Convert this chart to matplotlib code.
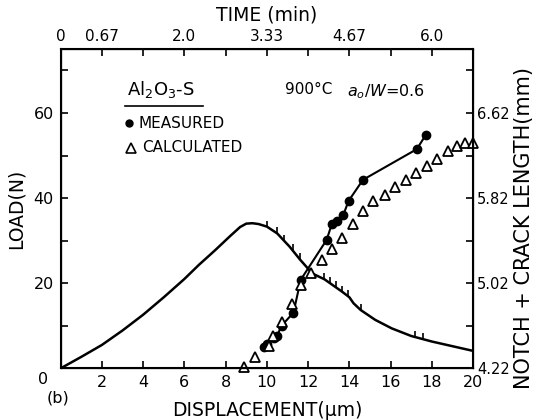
import matplotlib
matplotlib.use("Agg")
import matplotlib.pyplot as plt

plt.rcParams["font.family"] = ["DejaVu Sans"]
plt.rcParams["mathtext.fontset"] = "dejavusans"

# load-displacement curve
load_disp = [0, 1, 2, 3, 4, 5, 6, 6.7, 7.5, 8.2, 8.7, 9.0, 9.3, 9.6, 10.0, 10.5,
             11.1, 11.6, 12.2, 12.8, 13.65, 14.0, 14.2, 14.55, 15.25, 16.05, 17.0,
             18.0, 19.0, 20.0]
load_N = [0, 2.7, 5.5, 8.9, 12.6, 16.7, 21.0, 24.3, 27.8, 31.0, 33.2, 34.0, 34.1,
          33.9, 33.3, 31.7, 28.6, 25.6, 22.3, 20.9, 18.0, 16.7, 15.3, 13.7, 11.4,
          9.4, 7.6, 6.3, 5.2, 4.1]

# crack marks on the load curve
mark_disp = [10.0, 10.5, 10.85, 11.25, 11.6, 12.77, 13.04, 13.36, 13.65, 13.92,
             14.57, 17.16, 17.59]
mark_load = [33.3, 31.7, 29.9, 27.7, 25.6, 20.9, 20.1, 19.0, 18.0, 17.0, 13.6,
             7.4, 6.9]

# crack length, plotted in load units (4.22 mm + 0.04 mm/N)
meas_disp = [9.84, 10.0, 10.36, 10.49, 10.71, 11.29, 11.64, 12.9, 13.14, 13.41,
             13.7, 13.97, 14.66, 17.27, 17.7]
meas_val = [5.1, 5.75, 7.1, 7.6, 10.0, 13.1, 20.8, 30.2, 33.8, 34.7, 36.0, 39.4,
            44.3, 51.5, 54.8]

calc_disp = [8.91, 9.43, 10.12, 10.32, 10.71, 11.21, 11.67, 12.16, 12.69, 13.17,
             13.62, 14.17, 14.66, 15.15, 15.71, 16.23, 16.74, 17.22, 17.75, 18.27,
             18.77, 19.23, 19.63, 20.0]
calc_val = [0.3, 2.6, 5.3, 7.5, 11.0, 15.1, 19.6, 22.3, 25.5, 28.0, 30.6, 33.9,
            37.0, 39.4, 40.7, 42.5, 44.2, 45.8, 47.6, 49.3, 51.1, 52.2, 53.0, 53.0]

x_ticks = [0, 2, 4, 6, 8, 10, 12, 14, 16, 18, 20]
x_labels = ["", "2", "4", "6", "8", "10", "12", "14", "16", "18", "20"]
y_ticks = [0, 10, 20, 30, 40, 50, 60, 70]
y_labels = ["", "", "20", "", "40", "", "60", ""]
time_labels = ["0", "0.67", "", "2.0", "", "3.33", "", "4.67", "", "6.0", ""]
len_labels = ["4.22", "", "5.02", "", "5.82", "", "6.62", ""]

fig = plt.figure(figsize=(5.37, 4.2), dpi=100)
ax = fig.add_axes([0.113, 0.123, 0.768, 0.760])

ax.plot(load_disp, load_N, color="black", lw=1.8)
ax.plot(mark_disp, mark_load, ls="none", marker=2, ms=4.5, mew=1.2, color="black")
ax.plot(meas_disp, meas_val, color="black", lw=1.5, marker="o", ms=6,
        mfc="black", mec="black")
ax.plot(calc_disp, calc_val, ls="none", marker="^", ms=7.5, mfc="white",
        mec="black", mew=1.3, clip_on=False)

ax.set_xlim(0, 20)
ax.set_ylim(0, 75)
ax.set_xticks(x_ticks)
ax.set_xticklabels(x_labels)
ax.set_yticks(y_ticks)
ax.set_yticklabels(y_labels)
ax.tick_params(direction="in", length=5, width=1.2, labelsize=11.5, pad=5)
for s in ax.spines.values():
    s.set_linewidth(1.5)

top = ax.twiny()
top.set_xlim(ax.get_xlim())
top.set_xticks(x_ticks)
top.set_xticklabels(time_labels)
top.tick_params(direction="in", length=5, width=1.2, labelsize=11, pad=4)
top.set_xlabel("TIME (min)", fontsize=13.5, labelpad=6)

right = ax.twinx()
right.set_ylim(ax.get_ylim())
right.set_yticks(y_ticks)
right.set_yticklabels(len_labels)
right.tick_params(direction="in", length=5, width=1.2, labelsize=10.5, pad=3)
right.set_ylabel("NOTCH + CRACK LENGTH(mm)", fontsize=15, labelpad=5)
right.yaxis.set_label_coords(1.10, 0.44)

ax.set_xlabel("DISPLACEMENT(\u00b5m)", fontsize=13.5, labelpad=8)
ax.set_ylabel("LOAD(N)", fontsize=13.5, labelpad=6)

fig.text(43 / 537, 1 - 380 / 420, "0", fontsize=11.5, ha="center", va="center")
fig.text(58 / 537, 1 - 398 / 420, "(b)", fontsize=11.5, ha="center", va="center")

ax.text(3.2, 65.4, r"Al$_2$O$_3$-S", fontsize=13, va="center")
ax.plot([3.1, 6.9], [61.6, 61.6], color="black", lw=1.2)
ax.text(10.9, 65.6, "900\u00b0C", fontsize=11, va="center")
ax.text(13.9, 65.0, r"$a_o$/$W$=0.6", fontsize=11.5, va="center")
ax.plot([3.3], [57.6], ls="none", marker="o", ms=5, color="black")
ax.text(3.75, 57.6, "MEASURED", fontsize=11, va="center")
ax.plot([3.4], [51.8], ls="none", marker="^", ms=6.5, mfc="white", mec="black",
        mew=1.2)
ax.text(3.95, 51.8, "CALCULATED", fontsize=11, va="center")

fig.savefig("out.png", dpi=100)
